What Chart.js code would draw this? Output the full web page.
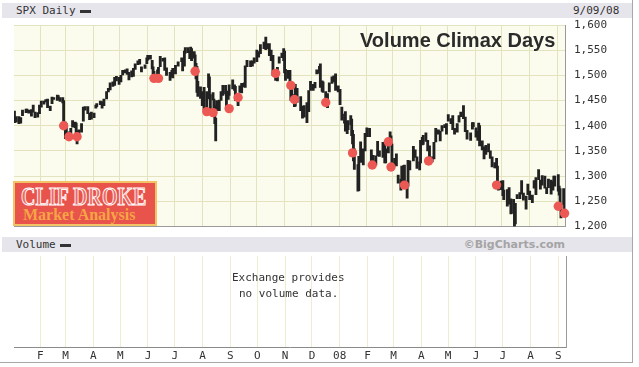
<!DOCTYPE html>
<html><head><meta charset="utf-8">
<script src="https://cdn.jsdelivr.net/npm/chart.js@4.4.1/dist/chart.umd.min.js"></script>
<style>
html,body{margin:0;padding:0;background:#fff;width:639px;height:367px;overflow:hidden;}
body{position:relative;}
.band{position:absolute;left:2px;width:630px;height:15px;background:#e7e5ec;}
.mono{position:absolute;font:11px "DejaVu Sans Mono",monospace;color:#333;white-space:nowrap;line-height:13px;}
.leg{position:absolute;height:3px;width:11px;background:#333;}
canvas{position:absolute;left:0;}
#title{position:absolute;left:360px;top:30px;font:bold 20px "Liberation Sans",Arial,sans-serif;line-height:20px;color:#2b2b2b;white-space:nowrap;}
#logo{position:absolute;left:13px;top:181px;width:140px;height:41px;background:#e8534b;border:2px solid #f2c466;overflow:hidden;}
#logo .l1{position:absolute;left:6px;top:1px;font:bold 25px "Liberation Serif",serif;line-height:25px;color:#ec6a62;-webkit-text-stroke:1px #fff;transform:scaleX(0.8);transform-origin:left top;white-space:nowrap;}
#logo .l2{position:absolute;left:8px;top:24px;font:bold 16px "Liberation Serif",serif;line-height:16px;color:#f5a545;white-space:nowrap;}
#bc{position:absolute;right:74px;top:238px;font:bold 11px "DejaVu Sans",sans-serif;line-height:13px;color:#a4a4a4;}
.vline{position:absolute;background:#a8a8a8;}
</style></head>
<body>
<canvas id="price" width="639" height="242" style="top:0"></canvas>
<div class="band" style="top:3px"></div>
<div class="mono" style="left:16px;top:4px">SPX Daily</div>
<div class="leg" style="left:80px;top:10px"></div>
<div class="mono" style="left:573px;top:4px">9/09/08</div>
<div id="title">Volume Climax Days</div>
<div id="logo"><div class="l1">CLIF DROKE</div><div class="l2">Market Analysis</div></div>
<canvas id="vol" width="639" height="115" style="top:252px"></canvas>
<div class="band" style="top:237px"></div>
<div class="mono" style="left:16px;top:238px">Volume</div>
<div class="leg" style="left:60px;top:244px"></div>
<div id="bc">©BigCharts.com</div>
<div class="mono" style="left:232px;top:271px">Exchange provides</div>
<div class="mono" style="left:239px;top:287px">no volume data.</div>
<div class="vline" style="left:632px;top:0;width:1px;height:363px"></div>
<div class="vline" style="left:0;top:362px;width:633px;height:1px"></div>
<script>
// ---- data (SPX daily; each bar = low..high) ----
const dates = [
 // 2007 Jan
 '2007-01-03','2007-01-05','2007-01-08','2007-01-10','2007-01-12','2007-01-16','2007-01-17','2007-01-19','2007-01-22','2007-01-24','2007-01-26','2007-01-29','2007-01-31',
 // Feb
 '2007-02-02','2007-02-05','2007-02-07','2007-02-09','2007-02-12','2007-02-14','2007-02-16','2007-02-20','2007-02-21','2007-02-23','2007-02-26','2007-02-27',
 // Mar
 '2007-03-01','2007-03-02','2007-03-05','2007-03-07','2007-03-09','2007-03-12','2007-03-13','2007-03-14','2007-03-16','2007-03-19','2007-03-21','2007-03-23','2007-03-26','2007-03-28','2007-03-30',
 // Apr
 '2007-04-02','2007-04-04','2007-04-05','2007-04-09','2007-04-11','2007-04-13','2007-04-16','2007-04-18','2007-04-20','2007-04-23','2007-04-25','2007-04-27','2007-04-30',
 // May
 '2007-05-02','2007-05-04','2007-05-07','2007-05-09','2007-05-11','2007-05-14','2007-05-16','2007-05-18','2007-05-21','2007-05-23','2007-05-25','2007-05-29','2007-05-31',
 // Jun
 '2007-06-01','2007-06-04','2007-06-06','2007-06-07','2007-06-08','2007-06-12','2007-06-13','2007-06-15','2007-06-18','2007-06-20','2007-06-22','2007-06-26','2007-06-28','2007-06-29',
 // Jul
 '2007-07-02','2007-07-05','2007-07-09','2007-07-10','2007-07-12','2007-07-13','2007-07-16','2007-07-18','2007-07-19','2007-07-20','2007-07-23','2007-07-24','2007-07-25','2007-07-26','2007-07-27','2007-07-30',
 // Aug
 '2007-08-01','2007-08-03','2007-08-06','2007-08-08','2007-08-09','2007-08-10','2007-08-13','2007-08-14','2007-08-15','2007-08-16','2007-08-17','2007-08-20','2007-08-22','2007-08-24','2007-08-27','2007-08-28','2007-08-30','2007-08-31',
 // Sep
 '2007-09-04','2007-09-06','2007-09-07','2007-09-10','2007-09-12','2007-09-14','2007-09-17','2007-09-18','2007-09-20','2007-09-24','2007-09-26','2007-09-28',
 // Oct
 '2007-10-01','2007-10-03','2007-10-05','2007-10-09','2007-10-11','2007-10-12','2007-10-15','2007-10-17','2007-10-19','2007-10-22','2007-10-24','2007-10-26','2007-10-29','2007-10-31',
 // Nov
 '2007-11-01','2007-11-02','2007-11-05','2007-11-07','2007-11-08','2007-11-09','2007-11-12','2007-11-13','2007-11-15','2007-11-19','2007-11-21','2007-11-23','2007-11-26','2007-11-28','2007-11-30',
 // Dec
 '2007-12-03','2007-12-05','2007-12-07','2007-12-10','2007-12-11','2007-12-13','2007-12-14','2007-12-17','2007-12-19','2007-12-21','2007-12-24','2007-12-26','2007-12-28','2007-12-31',
 // 2008 Jan
 '2008-01-02','2008-01-04','2008-01-07','2008-01-08','2008-01-10','2008-01-11','2008-01-14','2008-01-15','2008-01-16','2008-01-17','2008-01-18','2008-01-22','2008-01-23','2008-01-25','2008-01-28','2008-01-30',
 // Feb
 '2008-02-01','2008-02-04','2008-02-06','2008-02-08','2008-02-11','2008-02-13','2008-02-15','2008-02-19','2008-02-21','2008-02-22','2008-02-25','2008-02-27','2008-02-28','2008-02-29',
 // Mar
 '2008-03-03','2008-03-05','2008-03-07','2008-03-10','2008-03-11','2008-03-13','2008-03-14','2008-03-17','2008-03-18','2008-03-20','2008-03-24','2008-03-26','2008-03-28','2008-03-31',
 // Apr
 '2008-04-01','2008-04-03','2008-04-04','2008-04-07','2008-04-09','2008-04-11','2008-04-14','2008-04-16','2008-04-18','2008-04-21','2008-04-23','2008-04-25','2008-04-28','2008-04-30',
 // May
 '2008-05-02','2008-05-05','2008-05-07','2008-05-09','2008-05-12','2008-05-14','2008-05-16','2008-05-19','2008-05-21','2008-05-23','2008-05-27','2008-05-29','2008-05-30',
 // Jun
 '2008-06-02','2008-06-04','2008-06-05','2008-06-06','2008-06-09','2008-06-11','2008-06-13','2008-06-16','2008-06-18','2008-06-20','2008-06-23','2008-06-25','2008-06-26','2008-06-27','2008-06-30',
 // Jul
 '2008-07-02','2008-07-03','2008-07-07','2008-07-09','2008-07-11','2008-07-14','2008-07-15','2008-07-16','2008-07-18','2008-07-21','2008-07-23','2008-07-25','2008-07-28','2008-07-30',
 // Aug
 '2008-08-01','2008-08-04','2008-08-06','2008-08-08','2008-08-11','2008-08-13','2008-08-15','2008-08-18','2008-08-20','2008-08-22','2008-08-25','2008-08-27','2008-08-28','2008-08-29',
 // Sep
 '2008-09-02','2008-09-03','2008-09-04','2008-09-05','2008-09-08','2008-09-09'
];
const lows = [
 1406,1407,1404,1405,1420,1426,1427,1425,1419,1427,1416,1417,1424,
 1437,1443,1447,1436,1430,1444,1452,1450,1452,1448,1445,1396,
 1374,1386,1373,1382,1397,1396,1376,1364,1380,1387,1409,1431,1424,1412,1413,
 1416,1435,1438,1442,1435,1440,1453,1467,1471,1478,1480,1489,1482,
 1487,1501,1505,1502,1491,1497,1498,1512,1521,1522,1507,1514,1523,
 1530,1532,1513,1490,1491,1492,1493,1517,1528,1510,1500,1490,1497,1495,
 1503,1518,1527,1509,1518,1544,1545,1533,1546,1529,1534,1508,1493,1466,1458,1454,
 1440,1432,1424,1476,1453,1430,1451,1424,1404,1370,1430,1430,1450,1460,1463,1432,1452,1460,
 1473,1470,1450,1440,1466,1465,1477,1476,1517,1517,1518,1524,
 1527,1536,1543,1553,1551,1553,1539,1529,1500,1490,1489,1524,1535,1529,
 1505,1490,1494,1474,1450,1450,1438,1439,1446,1430,1415,1417,1406,1428,1470,
 1470,1475,1503,1504,1476,1468,1466,1445,1436,1467,1484,1487,1470,1467,
 1442,1411,1405,1389,1384,1392,1402,1380,1364,1330,1313,1270,1271,1327,1322,1350,
 1378,1378,1324,1325,1322,1340,1339,1337,1326,1326,1346,1371,1360,1326,
 1320,1320,1286,1272,1275,1282,1282,1256,1280,1312,1330,1337,1315,1312,
 1326,1362,1363,1369,1350,1331,1328,1334,1368,1383,1370,1389,1396,1383,
 1409,1404,1392,1383,1387,1407,1418,1414,1388,1373,1371,1393,1398,
 1377,1371,1378,1360,1352,1334,1343,1348,1335,1318,1316,1316,1283,1272,1273,
 1261,1253,1240,1244,1225,1226,1200,1205,1255,1255,1264,1252,1234,1263,
 1253,1247,1276,1263,1293,1274,1282,1276,1265,1277,1264,1272,1282,1280,
 1270,1262,1234,1217,1243,1224
];
const highs = [
 1429,1418,1418,1416,1431,1433,1433,1431,1432,1441,1427,1426,1441,
 1449,1449,1452,1453,1439,1457,1456,1461,1460,1456,1456,1450,
 1407,1404,1388,1395,1410,1407,1405,1390,1392,1404,1437,1438,1438,1425,1427,
 1425,1441,1444,1449,1448,1453,1468,1474,1485,1487,1496,1498,1496,
 1500,1510,1511,1513,1506,1509,1514,1523,1529,1532,1517,1521,1535,
 1540,1540,1530,1517,1508,1511,1516,1538,1534,1535,1515,1506,1510,1514,
 1520,1527,1535,1531,1548,1555,1555,1549,1556,1553,1547,1541,1524,1518,1488,1477,
 1468,1476,1468,1503,1497,1462,1466,1453,1440,1415,1450,1451,1468,1480,1480,1466,1469,1481,
 1491,1481,1478,1462,1479,1484,1485,1519,1530,1529,1529,1535,
 1550,1547,1561,1566,1576,1563,1563,1550,1540,1508,1516,1537,1544,1553,
 1548,1512,1510,1510,1482,1474,1462,1482,1474,1458,1439,1440,1446,1470,1488,
 1482,1486,1511,1518,1523,1489,1487,1468,1464,1485,1497,1499,1503,1479,
 1472,1437,1423,1428,1409,1410,1420,1413,1391,1383,1354,1323,1339,1368,1354,1385,
 1396,1395,1352,1341,1340,1369,1350,1367,1367,1354,1372,1388,1380,1364,
 1335,1344,1302,1294,1320,1321,1322,1290,1331,1330,1359,1352,1338,1328,
 1371,1377,1381,1386,1371,1360,1338,1367,1395,1392,1389,1400,1402,1404,
 1422,1414,1420,1395,1404,1420,1427,1440,1417,1391,1386,1406,1406,
 1396,1389,1405,1400,1370,1358,1361,1364,1350,1338,1327,1335,1320,1287,1290,
 1291,1272,1273,1277,1255,1254,1234,1246,1263,1267,1291,1266,1260,1284,
 1270,1262,1291,1297,1313,1292,1301,1300,1277,1294,1292,1289,1300,1300,
 1303,1280,1275,1243,1275,1270
];
// volume climax days (red dots)
const climaxDates = ['2007-02-27','2007-03-05','2007-03-14','2007-06-08','2007-06-13','2007-07-24','2007-08-06','2007-08-13','2007-08-31','2007-09-10','2007-10-22','2007-11-08','2007-11-12','2007-12-17','2008-01-16','2008-02-07','2008-02-25','2008-02-28','2008-03-14','2008-04-10','2008-06-25','2008-09-02','2008-09-09'];
const climaxPrices = [1400,1378,1378,1494,1494,1508,1428,1426,1434,1456,1504,1480,1452,1446,1346,1322,1368,1318,1282,1330,1282,1240,1226];
// time axis
const monthTickDates = ['2007-02-01','2007-03-01','2007-04-01','2007-05-01','2007-06-01','2007-07-01','2007-08-01','2007-09-01','2007-10-01','2007-11-01','2007-12-01','2008-01-01','2008-02-01','2008-03-01','2008-04-01','2008-05-01','2008-06-01','2008-07-01','2008-08-01','2008-09-01'];
const monthLabels = ['F','M','A','M','J','J','A','S','O','N','D','08','F','M','A','M','J','J','A','S'];
const priceTicks = [1200,1250,1300,1350,1400,1450,1500,1550,1600];

const dayNum = s => { const p = s.split('-').map(Number); return (Date.UTC(p[0],p[1]-1,p[2]) - Date.UTC(2007,0,1)) / 86400000; };
const monthTicks = monthTickDates.map(dayNum);
const X_MIN = 1.5, X_MAX = 617.5;
const MONO = {family:'DejaVu Sans Mono', size:11};

const plotBg = {
  id:'plotBg',
  beforeDraw(c, a, o){ const {ctx, chartArea:ca} = c; ctx.save(); ctx.fillStyle = o.color; ctx.fillRect(ca.left, ca.top, ca.right-ca.left, ca.bottom-ca.top); ctx.restore(); }
};

new Chart(document.getElementById('price'), {
  type:'bar',
  data:{datasets:[
    {type:'scatter', data: climaxDates.map((d,i)=>({x:dayNum(d), y:climaxPrices[i]})),
     pointRadius:4.7, pointBackgroundColor:'rgb(236,88,84)', pointBorderWidth:0, order:0, clip:false},
    {type:'bar', data: dates.map((d,i)=>({x:dayNum(d), y:[lows[i], highs[i]]})),
     backgroundColor:'#222222', barThickness:2.2, order:1}
  ]},
  options:{
    responsive:false, animation:false, devicePixelRatio:1,
    layout:{padding:{left:14, top:25, right:0, bottom:6}},
    plugins:{legend:{display:false}, tooltip:{enabled:false}, plotBg:{color:'#fcfcee'}},
    scales:{
      x:{type:'linear', min:X_MIN, max:X_MAX, offset:false,
         afterBuildTicks:s=>{ s.ticks = monthTicks.map(v=>({value:v})); },
         ticks:{display:false}, grid:{color:'#e4e3c0', drawTicks:false, offset:false},
         border:{display:true, color:'#9a9a9a'}, afterFit:s=>{ s.height = 0; }},
      y:{position:'right', min:1200, max:1600,
         afterBuildTicks:s=>{ s.ticks = priceTicks.map(v=>({value:v})); },
         ticks:{padding:9, color:'#333', font:MONO, callback:v=>v.toLocaleString('en-US')},
         grid:{color:'#e4e3c0', drawTicks:false},
         border:{display:true, color:'#9a9a9a'}, afterFit:s=>{ s.width = 74; }}
    }
  },
  plugins:[plotBg]
});

new Chart(document.getElementById('vol'), {
  type:'line',
  data:{datasets:[]},
  options:{
    responsive:false, animation:false, devicePixelRatio:1,
    layout:{padding:{left:14, top:4, right:73, bottom:0}},
    plugins:{legend:{display:false}, tooltip:{enabled:false}},
    scales:{
      x:{type:'linear', min:X_MIN, max:X_MAX, offset:false,
         afterBuildTicks:s=>{ s.ticks = monthTicks.map(v=>({value:v})); },
         ticks:{autoSkip:false, maxRotation:0, padding:3, color:'#333', font:MONO, callback:(v,i)=>monthLabels[i]},
         grid:{color:'#eeedd0', drawTicks:false},
         border:{display:true, color:'#8a8a8a'}, afterFit:s=>{ s.height = 20; }},
      y:{position:'right', min:0, max:1, ticks:{display:false}, grid:{display:false},
         border:{display:true, color:'#9a9a9a'}, afterFit:s=>{ s.width = 0; }}
    }
  }
});
</script>
</body></html>
